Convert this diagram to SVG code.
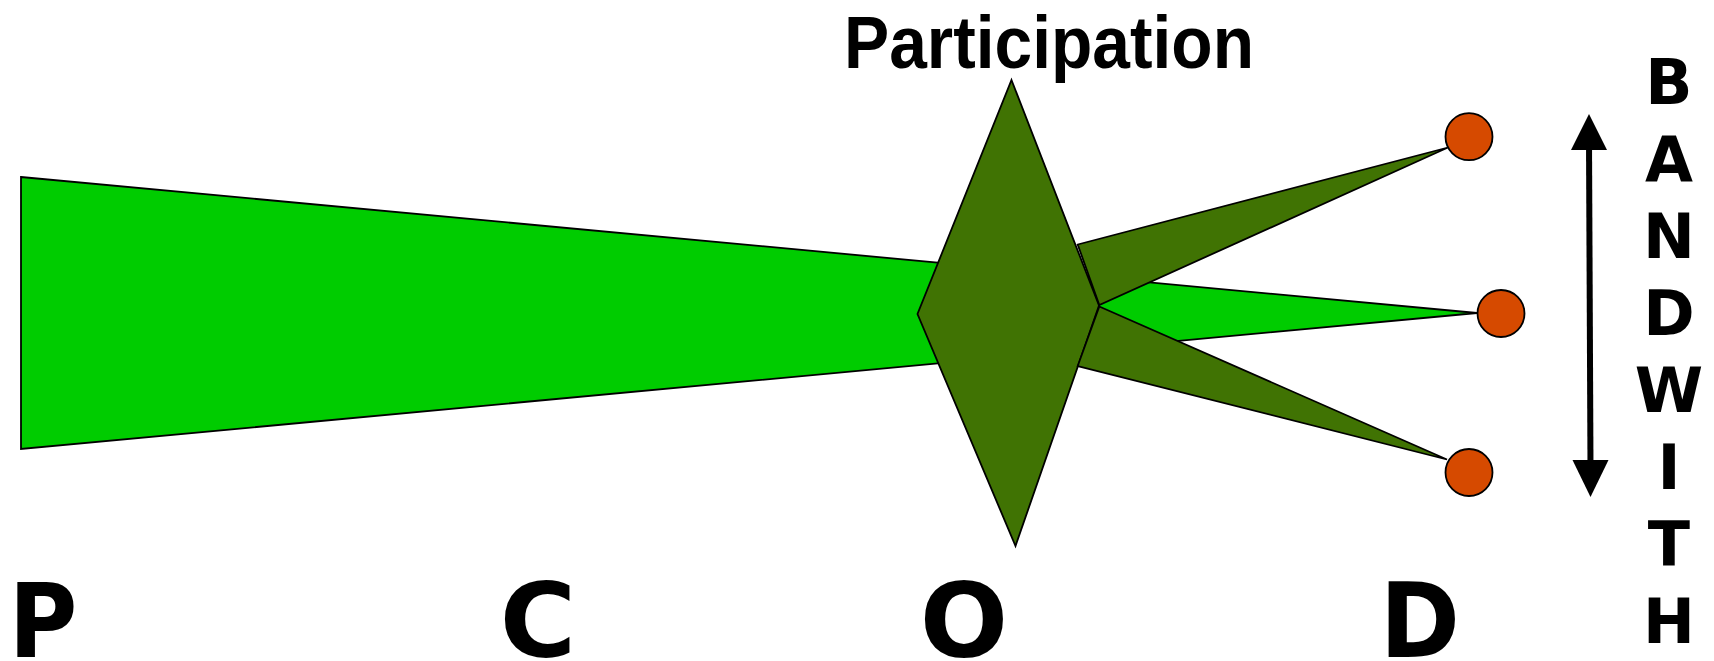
<svg xmlns="http://www.w3.org/2000/svg" width="1714" height="661" viewBox="0 0 1714 661">
<style>
.sh{stroke:#000;stroke-width:1.8;stroke-linejoin:miter}
.lg{fill:#00cc00}
.dg{fill:#407303}
.or{fill:#d64a00}
.big{font-family:"DejaVu Sans","Liberation Sans",sans-serif;font-weight:bold;font-size:104px;fill:#000;text-anchor:middle}
.bw{font-family:"DejaVu Sans","Liberation Sans",sans-serif;font-weight:bold;font-size:62px;fill:#000;text-anchor:middle}
</style>
<rect width="1714" height="661" fill="#fff"/>
<g id="wedge"><polygon class="sh lg" points="21,177 1477,313 21,449"/></g>
<g id="diamond"><polygon class="sh dg" points="1011.5,80 1099,305.5 1015.5,546 917.5,314"/></g>
<g id="arm-top"><polygon class="sh dg" points="1077.7,244.5 1448,147.5 1099.3,305"/></g>
<g id="arm-bottom"><polygon class="sh dg" points="1099.3,306.5 1447,459.5 1077.7,366"/></g>
<g id="dot-top"><circle class="sh or" cx="1469" cy="136.7" r="23.5"/></g>
<g id="dot-mid"><circle class="sh or" cx="1501" cy="313.5" r="23.5"/></g>
<g id="dot-bottom"><circle class="sh or" cx="1469" cy="472.5" r="23.5"/></g>
<g id="connectors">
<line x1="1589" y1="140" x2="1590.5" y2="470" stroke="#000" stroke-width="6"/>
<polygon points="1589,114 1571,150 1607,150" fill="#000"/>
<polygon points="1590.5,497 1572.5,460 1608.5,460" fill="#000"/>
</g>
<g id="title"><text x="1049" y="67.5" font-family="'Liberation Sans Narrow','Liberation Sans',sans-serif" font-weight="bold" font-size="75" text-anchor="middle" textLength="410" lengthAdjust="spacingAndGlyphs">Participation</text></g>
<g id="axis-labels">
<text class="big" transform="translate(43,657) scale(0.9,1)">P</text>
<text class="big" x="538" y="657">C</text>
<text class="big" x="964" y="657">O</text>
<text class="big" transform="translate(1420,657) scale(0.93,1)">D</text>
</g>
<g id="bandwidth">
<text class="bw" x="1669" y="104">B</text>
<text class="bw" x="1669" y="181">A</text>
<text class="bw" x="1669" y="258">N</text>
<text class="bw" x="1669" y="335">D</text>
<text class="bw" x="1669" y="412">W</text>
<text class="bw" x="1669" y="489">I</text>
<text class="bw" x="1669" y="566">T</text>
<text class="bw" x="1669" y="643">H</text>
</g>
</svg>
